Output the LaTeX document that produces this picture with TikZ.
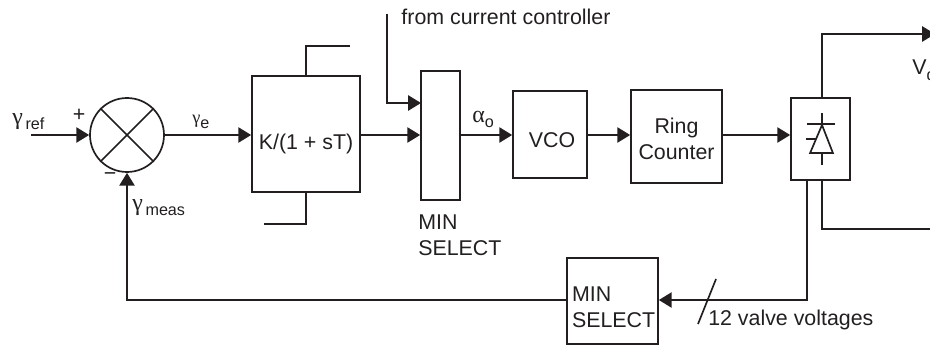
\documentclass[tikz,border=0pt]{standalone}
\usepackage{fontspec}
\setmainfont{Liberation Sans}
\newfontfamily\gorog{Liberation Serif}
\usepackage{tikz}
\usetikzlibrary{arrows.meta,calc}
\definecolor{tinta}{HTML}{231F20}
\newcommand{\jel}[3][17]{{\gorog\fontsize{#1}{#1}\selectfont #2}\raisebox{-4pt}{\fontsize{11.5}{11.5}\selectfont #3}}
\newcommand{\lent}[2]{\raisebox{-#1}[0pt][0pt]{#2}}
\tikzset{
  blokk/.style={draw=tinta,line width=1.2pt,fill=white,inner sep=0pt,align=center},
  osszeg/.style={circle,draw=tinta,line width=1.2pt,inner sep=0pt,minimum size=1.85cm},
  nyil/.style={-{Triangle[length=3.2mm,width=3.8mm]},line width=1.2pt,draw=tinta},
  vonal/.style={line width=1.2pt,draw=tinta},
  cimke/.style={text=tinta,inner sep=0pt,align=left},
}
\begin{document}
\begin{tikzpicture}[font=\fontsize{15.2}{18.4}\selectfont,text=tinta]
  \useasboundingbox (0,0) rectangle (23.25,8.625);
  % blocks
  \node[osszeg] (sum) at (3.175,5.25) {};
  \node[blokk,minimum width=2.7cm,minimum height=2.9cm] (kt) at (7.65,5.275) {\lent{11pt}{K/(1 + sT)}};
  \node[blokk,minimum width=0.975cm,minimum height=3.225cm] (minsel) at (11.0125,5.2375) {};
  \node[blokk,minimum width=1.85cm,minimum height=2.175cm] (vco) at (13.75,5.2625) {\lent{9.5pt}{\hspace{3pt}VCO}};
  \node[blokk,minimum width=2.275cm,minimum height=2.325cm] (ring) at (16.9125,5.2125) {\lent{16.5pt}{\begin{tabular}[b]{@{}c@{}}Ring\\Counter\end{tabular}}};
  \node[blokk,minimum width=1.475cm,minimum height=2.05cm] (conv) at (20.5125,5.15) {};
  \node[blokk,minimum width=2.275cm,minimum height=2.15cm] (minlow) at (15.3125,1.1) {\lent{18.5pt}{\makebox[2.025cm][l]{\begin{tabular}[b]{@{}l@{}}MIN\\SELECT\end{tabular}}}};
  % free ends
  \coordinate (refbe) at (0.775,5.25);
  \coordinate (curbe) at (9.675,8.275);
  \coordinate (curvege) at (10.525,6.05);
  \coordinate (vdvege) at (23.375,7.775);
  \coordinate (alsovege) at (23.4,2.9);
  \coordinate (visszater) at (20.1375,1.125);
  \coordinate (perA) at (17.45,0.525);
  \coordinate (perB) at (17.9,1.65);
  % summing junction
  \draw[vonal] (sum.north west) -- (sum.south east);
  \draw[vonal] (sum.south west) -- (sum.north east);
  % forward path
  \draw[nyil] (refbe) -- (sum.west);
  \draw[nyil] (sum.east) -- (sum.east -| kt.west);
  \draw[nyil] (kt.east |- sum) -- (minsel.west |- sum);
  \draw[nyil] (curbe) |- (curvege);
  \draw[nyil] (minsel.east |- sum) -- (vco.west |- sum);
  \draw[nyil] (vco.east |- sum) -- (ring.west |- sum);
  \draw[nyil] (ring.east |- sum) -- (conv.west |- sum);
  % limiter stubs
  \draw[vonal] (kt.north) |- ++(1.1,0.725);
  \draw[vonal] (kt.south) |- ++(-1.05,-0.775);
  % converter
  \draw[vonal,shift={(conv.center)}] (0.0375,0.35) -- (-0.26,-0.35) -- (0.31,-0.35) -- cycle;
  \draw[vonal,shift={(conv.center)}] (-0.34,0.375) -- (0.36,0.375);
  \draw[vonal,shift={(conv.center)}] (0.0375,0.65) -- (0.0375,0.35);
  \draw[vonal,shift={(conv.center)}] (0.0375,-0.35) -- (0.0375,-0.65);
  \draw[vonal,shift={(conv.center)}] (-0.36,0) -- (-0.11,0);
  \draw[nyil] ([xshift=0.0375cm]conv.north) |- (vdvege);
  \draw[vonal] ([xshift=0.0375cm]conv.south) |- (alsovege);
  % feedback
  \draw[nyil] ([xshift=-0.3375cm]conv.south) |- (minlow.east |- visszater);
  \draw[nyil] (minlow.west |- visszater) -| (sum.south);
  \draw[vonal] (perA) -- (perB);
  % labels
  \node[cimke,anchor=base west] (lref) at (0.3,5.525) {\jel{γ}{\,ref}};
  \node[cimke,anchor=center] (lplus) at (1.975,5.75) {+};
  \node[cimke,anchor=center] (lminus) at (2.75,4.2) {−};
  \node[cimke,anchor=base west] (lerr) at (4.8,5.55) {\jel[13]{γ}{e}};
  \node[cimke,anchor=base west] (lmeas) at (3.3,3.375) {\jel{γ}{\,meas}};
  \node[cimke,anchor=base west] (lalpha) at (11.8,5.575) {\jel{α}{o}};
  \node[cimke,anchor=base west] (lcur) at (10.03,8) {from current controller};
  \node[cimke,anchor=north west] (lmin) at (10.45,3.25) {MIN\\SELECT};
  \node[cimke,anchor=base west] (lvd) at (22.8,6.75) {V\raisebox{-4pt}{\fontsize{11.5}{11.5}\selectfont d}};
  \node[cimke,anchor=base west] (lvalve) at (17.7,0.5) {12 valve voltages};
\end{tikzpicture}
\end{document}
